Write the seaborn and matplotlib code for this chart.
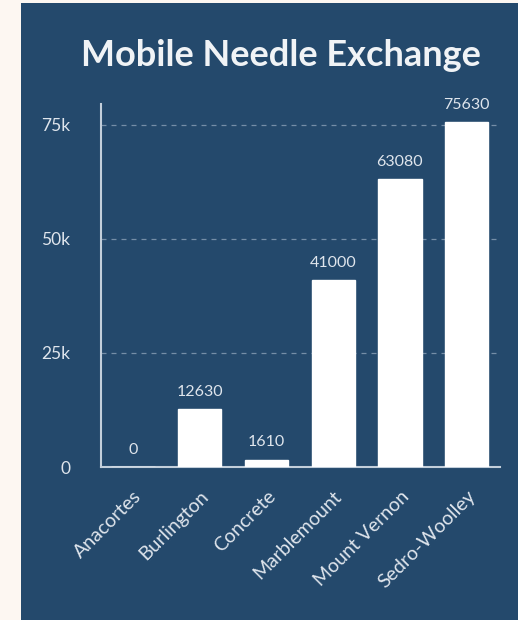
import numpy as np
import pandas as pd
import seaborn as sns
import matplotlib.pyplot as plt
from matplotlib.ticker import FuncFormatter

sites = ['Anacortes', 'Burlington', 'Concrete', 'Marblemount', 'Mount Vernon', 'Sedro-Woolley']
exchanges = [0, 12630, 1610, 41000, 63080, 75630]
y_ticks = [0, 25000, 50000, 75000]

panel = '#24496c'
light = '#dfe5ec'

sns.set_style("white")
plt.rcParams['font.family'] = ['Lato', 'DejaVu Sans']

df = pd.DataFrame({'site': sites, 'count': exchanges})

fig = plt.figure(figsize=(5.18, 6.2), dpi=100, facecolor='#fdf7f2')

# blue card behind the chart
bg = fig.add_axes([21 / 518, 0, 1 - 21 / 518, 617 / 620], zorder=0)
bg.set_facecolor(panel)
bg.set_xticks([])
bg.set_yticks([])
for s in bg.spines.values():
    s.set_visible(False)

ax = fig.add_axes([101 / 518, 1 - 467 / 620, 399 / 518, 363 / 620], zorder=1)
ax.set_facecolor('none')

sns.barplot(data=df, x='site', y='count', color='white', saturation=1,
            width=0.65, ax=ax, zorder=3)

for i, v in enumerate(exchanges):
    ax.text(i, v + 2300, str(v), ha='center', va='bottom', color=light, fontsize=11.5)

ax.set_xlim(-0.48, 5.5)
ax.set_ylim(0, 79600)
ax.set_yticks(y_ticks)
ax.yaxis.set_major_formatter(FuncFormatter(lambda v, p: '0' if v == 0 else f'{int(v / 1000)}k'))
ax.grid(axis='y', color='#8aa0b6', linestyle=(0, (4, 4)), linewidth=0.9, alpha=0.8)
ax.set_axisbelow(True)

for s in ['top', 'right']:
    ax.spines[s].set_visible(False)
for s in ['left', 'bottom']:
    ax.spines[s].set_color('#c3cfdb')
    ax.spines[s].set_linewidth(1.5)

ax.tick_params(axis='y', length=0, pad=22, colors=light, labelsize=12.5)
ax.tick_params(axis='x', length=0, pad=15, colors=light, labelsize=14)
plt.setp(ax.get_xticklabels(), rotation=45, ha='right', rotation_mode='anchor')
ax.set_xlabel('')
ax.set_ylabel('')

fig.text(281 / 518, 1 - 55 / 620, 'Mobile Needle Exchange', ha='center', va='center',
         color='#f0f3f6', fontsize=26, fontweight='bold')

plt.savefig('out.png', dpi=100, facecolor=fig.get_facecolor())
